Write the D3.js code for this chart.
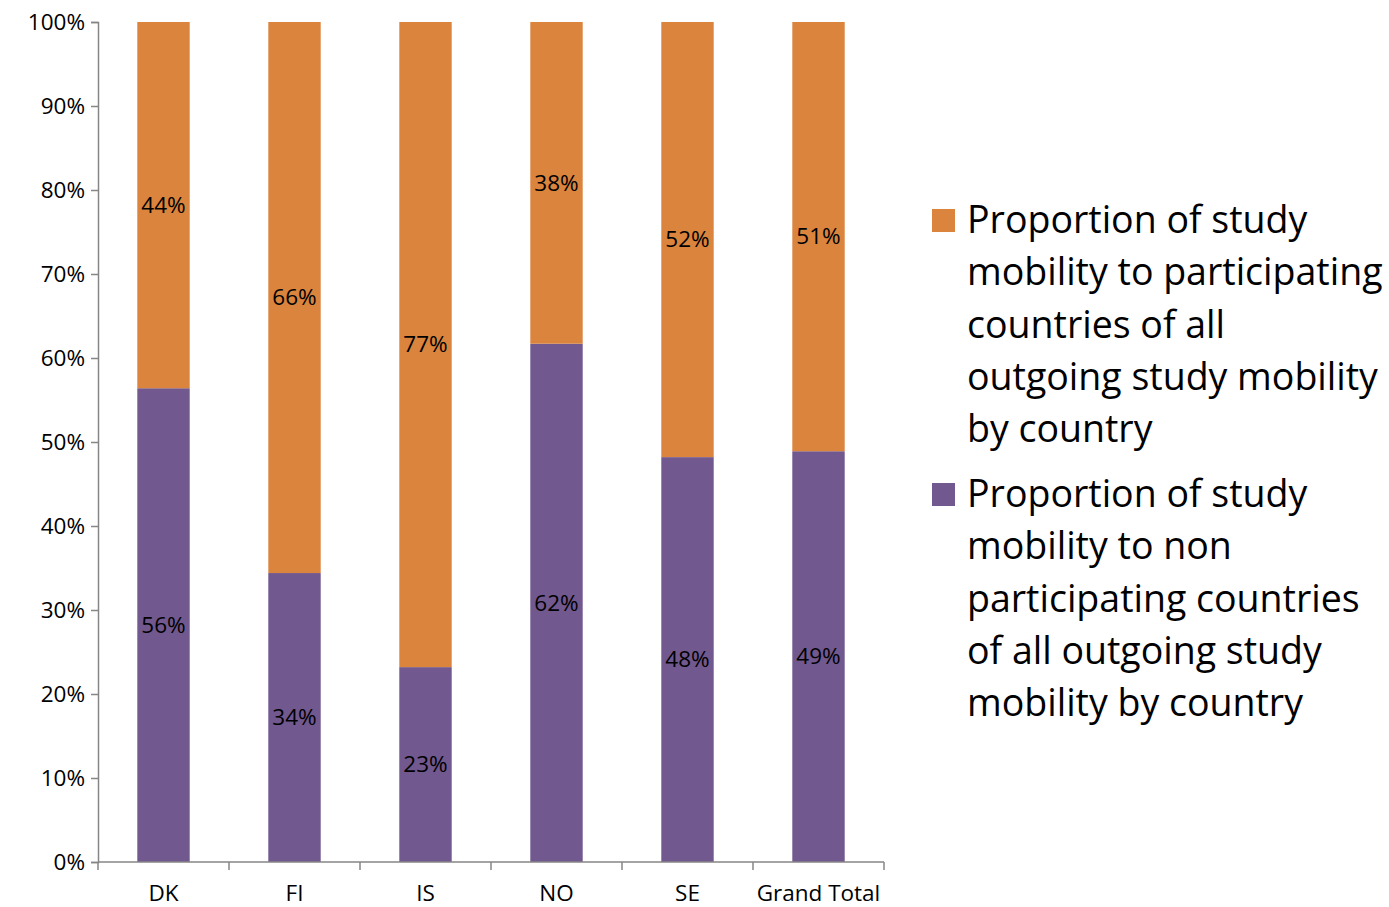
<!DOCTYPE html>
<html>
<head>
<meta charset="utf-8">
<script src="https://cdn.jsdelivr.net/npm/d3@7"></script>
<style>
  body { margin: 0; background: #fff; }
  svg { font-family: "Open Sans", sans-serif; }
</style>
</head>
<body>
<svg id="chart" width="1389" height="907"></svg>
<script>
const countries = ['DK', 'FI', 'IS', 'NO', 'SE', 'Grand Total']
// share to non participating countries (bottom), share to participating (top)
const nonParticipating = [56.4, 34.4, 23.2, 61.7, 48.2, 48.9]
const participating = nonParticipating.map(v => 100 - v)
const yTicks = [0, 10, 20, 30, 40, 50, 60, 70, 80, 90, 100]

const legendItems = [
  { color: '#DB843D', lines: ['Proportion of study', 'mobility to participating', 'countries of all', 'outgoing study mobility', 'by country'] },
  { color: '#71588F', lines: ['Proportion of study', 'mobility to non', 'participating countries', 'of all outgoing study', 'mobility by country'] }
]

const margin = { top: 22, left: 98 }
const width = 786, height = 840
const fontSmall = 22.5

const svg = d3.select('#chart')
const chart = svg.append('g')
  .attr('transform', `translate(${margin.left}, ${margin.top})`)

const x = d3.scaleBand().domain(countries).range([0, width])
const y = d3.scaleLinear().domain([0, 100]).range([height, 0])
const barW = x.bandwidth() * 0.4

const rows = countries.map((c, i) => ({ c, low: nonParticipating[i], high: participating[i] }))

// purple bottom segment
chart.selectAll('.low').data(rows).join('rect')
  .attr('x', d => x(d.c) + (x.bandwidth() - barW) / 2)
  .attr('width', barW)
  .attr('y', d => y(d.low))
  .attr('height', d => y(0) - y(d.low))
  .attr('fill', '#71588F')

// orange top segment
chart.selectAll('.high').data(rows).join('rect')
  .attr('x', d => x(d.c) + (x.bandwidth() - barW) / 2)
  .attr('width', barW)
  .attr('y', d => y(d.low + d.high))
  .attr('height', d => y(d.low) - y(d.low + d.high))
  .attr('fill', '#DB843D')

const labels = chart.append('g').attr('font-size', fontSmall).attr('text-anchor', 'middle').attr('fill', '#000')
labels.selectAll('.ll').data(rows).join('text')
  .attr('x', d => x(d.c) + x.bandwidth() / 2)
  .attr('y', d => y(d.low / 2))
  .attr('dy', '0.35em')
  .text(d => Math.round(d.low) + '%')
labels.selectAll('.hl').data(rows).join('text')
  .attr('x', d => x(d.c) + x.bandwidth() / 2)
  .attr('y', d => y(d.low + d.high / 2))
  .attr('dy', '0.35em')
  .text(d => Math.round(d.high) + '%')

// y axis
const yAxis = chart.append('g')
  .call(d3.axisLeft(y).tickValues(yTicks).tickSize(7).tickPadding(6).tickFormat(d => d + '%'))
yAxis.select('.domain').attr('stroke', '#868686').attr('stroke-width', 1.5)
yAxis.selectAll('.tick line').attr('stroke', '#868686').attr('stroke-width', 1.5)
yAxis.selectAll('.tick text').attr('font-size', fontSmall).attr('fill', '#000')
  .attr('font-family', '"Open Sans", sans-serif')

// x axis, ticks at the band edges
const xAxis = chart.append('g').attr('transform', `translate(0, ${height})`)
xAxis.append('line').attr('x1', 0).attr('x2', width)
  .attr('stroke', '#868686').attr('stroke-width', 1.5)
xAxis.selectAll('.edge').data(countries.concat(['end'])).join('line')
  .attr('x1', (d, i) => i * x.step()).attr('x2', (d, i) => i * x.step())
  .attr('y1', 0).attr('y2', 8)
  .attr('stroke', '#868686').attr('stroke-width', 1.5)
xAxis.selectAll('.xl').data(countries).join('text')
  .attr('x', d => x(d) + x.bandwidth() / 2)
  .attr('y', 39)
  .attr('text-anchor', 'middle')
  .attr('font-size', fontSmall)
  .text(d => d)

// legend
const legend = svg.append('g').attr('transform', 'translate(932, 0)')
legendItems.forEach((item, k) => {
  const top = 220 + k * 274
  legend.append('rect')
    .attr('x', 0).attr('y', top - 11).attr('width', 23).attr('height', 23)
    .attr('fill', item.color)
  legend.append('g').selectAll('text').data(item.lines).join('text')
    .attr('x', 35)
    .attr('y', (d, i) => top + i * 52.3)
    .attr('dy', '0.35em')
    .attr('font-size', 37.5)
    .attr('fill', '#000')
    .text(d => d)
})
</script>
</body>
</html>
